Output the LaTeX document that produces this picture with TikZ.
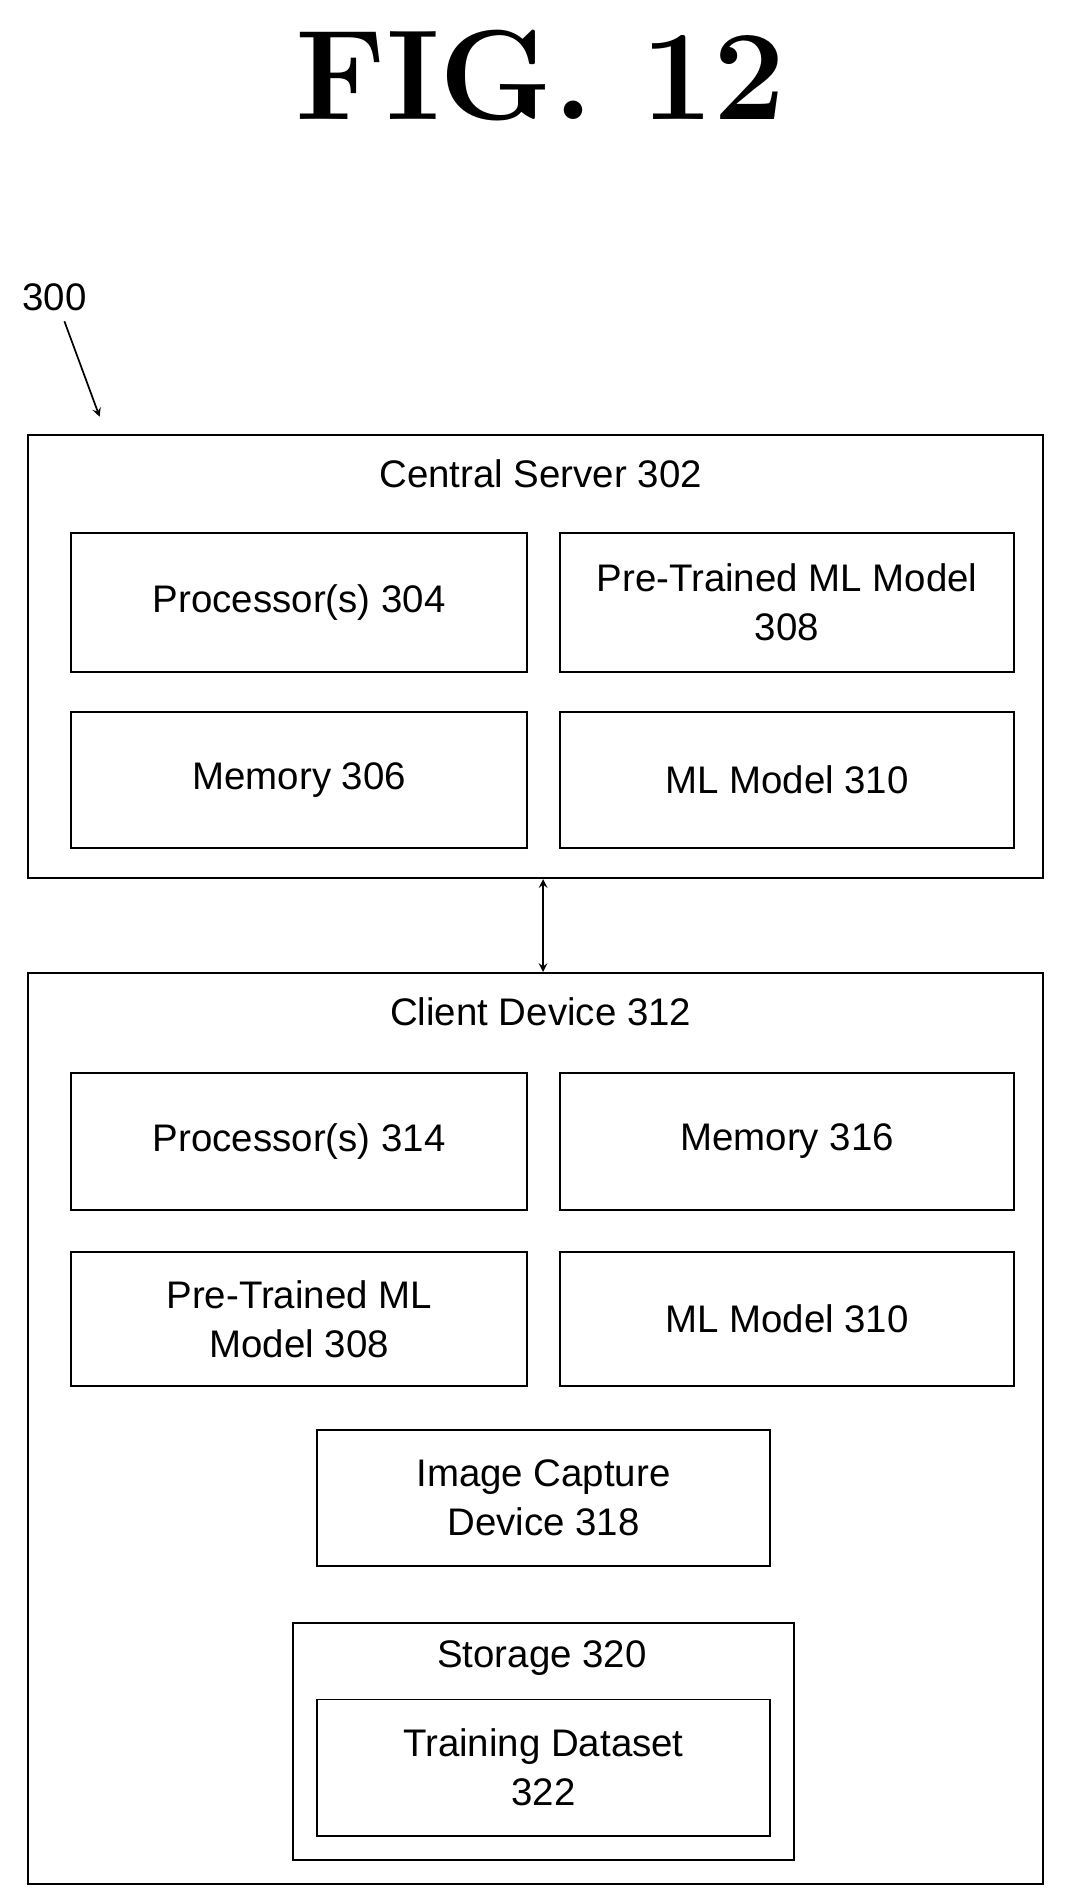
\documentclass[tikz,border=0pt]{standalone}
\usepackage{fontspec}
\setsansfont{Liberation Sans}
\usetikzlibrary{arrows,positioning}

\begin{document}
\begin{tikzpicture}[
    x=0.02cm, y=-0.02cm,
    box/.style={rectangle,draw,line width=0.9pt,anchor=north west,inner sep=0pt,align=center,font=\sffamily\fontsize{18}{23}\selectfont},
    label/.style={font=\sffamily\fontsize{18}{23}\selectfont},
    arrow/.style={->,>=stealth,thick}
]
\useasboundingbox (0,0) rectangle (890,1563);

% Title
\node[font=\bfseries\fontsize{60}{62}\selectfont] (title) at (445,62) {FIG.\ 12};
\node[label] (ref) at (45,245) {300};
\coordinate (refend) at (82,343);
\draw[arrow] (ref.south) ++(8,2) -- (refend);

% Central server
\node[box,minimum width=836*0.02cm,minimum height=365*0.02cm] (server) at (22,357) {};
\node[label] (servertitle) at (445,390) {Central Server 302};
\node[box,minimum width=375*0.02cm,minimum height=114*0.02cm] (proc1) at (58,438) {Processor(s) 304};
\node[box,minimum width=374*0.02cm,minimum height=114*0.02cm] (pre1) at (460,438) {Pre-Trained ML Model\\308};
\node[box,minimum width=375*0.02cm,minimum height=112*0.02cm] (mem1) at (58,585) {Memory 306};
\node[box,minimum width=374*0.02cm,minimum height=112*0.02cm] (ml1) at (460,585) {ML Model 310};

% Client device
\node[box,minimum width=836*0.02cm,minimum height=750*0.02cm] (client) at (22,800) {};
\node[label] (clienttitle) at (445,833) {Client Device 312};
\node[box,minimum width=375*0.02cm,minimum height=113*0.02cm] (proc2) at (58,882) {Processor(s) 314};
\node[box,minimum width=374*0.02cm,minimum height=113*0.02cm] (mem2) at (460,882) {Memory 316};
\node[box,minimum width=375*0.02cm,minimum height=110*0.02cm] (pre2) at (58,1030) {Pre-Trained ML\\Model 308};
\node[box,minimum width=374*0.02cm,minimum height=110*0.02cm] (ml2) at (460,1030) {ML Model 310};
\node[box,minimum width=373*0.02cm,minimum height=112*0.02cm] (cam) at (260,1176) {Image Capture\\Device 318};
\node[box,minimum width=413*0.02cm,minimum height=195*0.02cm] (storage) at (240,1335) {};
\node[label] (storagetitle) at (446,1365) {Storage 320};
\node[box,minimum width=373*0.02cm,minimum height=112*0.02cm] (data) at (260,1398) {Training Dataset\\322};

% Connections
\draw[<->,>=stealth,thick] (server.south -| 447,0) -- (client.north -| 447,0);

\end{tikzpicture}
\end{document}
